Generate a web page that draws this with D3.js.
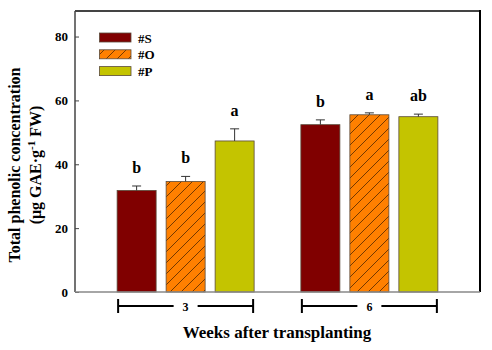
<!DOCTYPE html>
<html><head><meta charset="utf-8">
<script src="https://cdn.jsdelivr.net/npm/d3@7"></script>
<style>body{margin:0;background:#fff}svg{display:block}svg text{font-family:"Liberation Serif",serif !important;font-weight:bold}</style>
</head><body>
<svg id="c" width="492" height="350" font-family="Liberation Serif" font-weight="bold"></svg>
<script>
const weeks = ["3", "6"];
const series = ["#S", "#O", "#P"];
const meanS = [31.8, 52.4];
const meanO = [34.6, 55.5];
const meanP = [47.3, 54.9];
const errS = [1.4, 1.5];
const errO = [1.6, 0.6];
const errP = [3.8, 0.8];
const lettersS = ["b", "b"];
const lettersO = ["b", "a"];
const lettersP = ["a", "ab"];
const yTicks = [0, 20, 40, 60, 80];

const FONT = "Liberation Serif";
const colors = {"#S": "#800000", "#O": "#FF8000", "#P": "#C4C400"};
const means = {"#S": meanS, "#O": meanO, "#P": meanP};
const errs = {"#S": errS, "#O": errO, "#P": errP};
const letters = {"#S": lettersS, "#O": lettersO, "#P": lettersP};

const svg = d3.select("#c");
const L = 75, R = 480, T = 11, B = 292;

const defs = svg.append("defs");
const pat = defs.append("pattern").attr("id", "hatch").attr("patternUnits", "userSpaceOnUse")
  .attr("width", 11).attr("height", 11);
pat.append("rect").attr("width", 11).attr("height", 11).attr("fill", "#FF8000");
pat.append("path").attr("d", "M-1,12 L12,-1 M-2,2 L2,-2 M9,13 L13,9").attr("stroke", "#3a1a00").attr("stroke-width", 0.7);

const fillOf = s => s === "#O" ? "url(#hatch)" : colors[s];

const x = d3.scalePoint().domain(weeks).range([L, R]).padding(0.602);
const xi = d3.scaleBand().domain(series).range([-73.5, 73.5]).paddingInner(0.204).paddingOuter(0.102);
const y = d3.scaleLinear().domain([0, 88]).range([B, T]);

// frame
svg.append("line").attr("x1", L).attr("x2", R).attr("y1", T).attr("y2", T).attr("stroke", "#444").attr("stroke-width", 2);
svg.append("line").attr("x1", R).attr("x2", R).attr("y1", T - 1).attr("y2", B).attr("stroke", "#000").attr("stroke-width", 2);

// bars
const rows = [];
weeks.forEach((w, i) => series.forEach(s => rows.push({w, s, v: means[s][i], e: errs[s][i], l: letters[s][i]})));
const g = svg.append("g");
g.selectAll("rect.bar").data(rows).join("rect").attr("class", "bar")
  .attr("x", d => x(d.w) + xi(d.s)).attr("width", xi.bandwidth())
  .attr("y", d => y(d.v)).attr("height", d => y(0) - y(d.v))
  .attr("fill", d => fillOf(d.s)).attr("stroke", "#5a4a3a").attr("stroke-width", 0.8);
g.selectAll("path.err").data(rows).join("path").attr("class", "err")
  .attr("d", d => {
    const cx = x(d.w) + xi(d.s) + xi.bandwidth() / 2;
    return `M${cx},${y(d.v)}V${y(d.v + d.e)}M${cx - 4.5},${y(d.v + d.e)}H${cx + 4.5}`;
  }).attr("stroke", "#333").attr("stroke-width", 1).attr("fill", "none");
g.selectAll("text.let").data(rows).join("text").attr("class", "let")
  .attr("x", d => x(d.w) + xi(d.s) + xi.bandwidth() / 2)
  .attr("y", d => y(d.v + d.e) - 13)
  .attr("text-anchor", "middle").attr("font-family", FONT).attr("font-size", 16).text(d => d.l);

// y axis
const ya = svg.append("g").attr("transform", `translate(${L},0)`)
  .call(d3.axisRight(y).tickValues(yTicks).tickSize(4).tickFormat(d3.format("d")));
ya.attr("font-family", FONT).attr("font-weight", "bold");
ya.select(".domain").attr("stroke", "#444").attr("stroke-width", 1.5).attr("d", `M0,${T}V${B}`);
ya.selectAll(".tick line").attr("stroke", "#444");
ya.selectAll(".tick text").attr("x", -7).attr("text-anchor", "end").attr("font-size", 13)
  .attr("font-family", FONT).attr("fill", "#000");

// x axis baseline
svg.append("line").attr("x1", L).attr("x2", R).attr("y1", B).attr("y2", B).attr("stroke", "#888").attr("stroke-width", 1.5);

// brackets
const br = svg.append("g");
weeks.forEach(w => {
  const cx = x(w), x0 = cx - 67.5, x1 = cx + 67.5, by = 306;
  br.append("path").attr("d", `M${x0},${by}H${cx - 12}M${cx + 12},${by}H${x1}M${x0},${by - 7}V${by + 7}M${x1},${by - 7}V${by + 7}`)
    .attr("stroke", "#000").attr("stroke-width", 2).attr("fill", "none");
  br.append("text").attr("x", cx).attr("y", by + 4.5).attr("text-anchor", "middle").attr("font-family", FONT).attr("font-size", 12).text(w);
});

// axis titles
svg.append("text").attr("x", 277).attr("y", 338).attr("text-anchor", "middle").attr("font-family", FONT).attr("font-size", 17).text("Weeks after transplanting");
const yt = svg.append("text").attr("transform", "translate(0,165) rotate(-90)").attr("text-anchor", "middle").attr("font-family", FONT).attr("font-size", 16);
yt.append("tspan").attr("x", 0).attr("y", 20).text("Total phenolic concentration");
const t2 = yt.append("tspan").attr("x", 0).attr("y", 41);
t2.append("tspan").text("(μg GAE·g");
t2.append("tspan").attr("dy", -6).attr("font-size", 11).text("-1");
t2.append("tspan").attr("dy", 6).text(" FW)");

// legend
const lg = svg.append("g");
series.forEach((s, i) => {
  const ly = 33 + i * 16.8;
  lg.append("rect").attr("x", 99.5).attr("y", ly).attr("width", 31.5).attr("height", 9)
    .attr("fill", fillOf(s)).attr("stroke", "#5a4a3a").attr("stroke-width", 0.8);
  lg.append("text").attr("x", 138).attr("y", ly + 9.5).attr("font-family", FONT).attr("font-size", 13).text(s);
});
</script>
</body></html>
